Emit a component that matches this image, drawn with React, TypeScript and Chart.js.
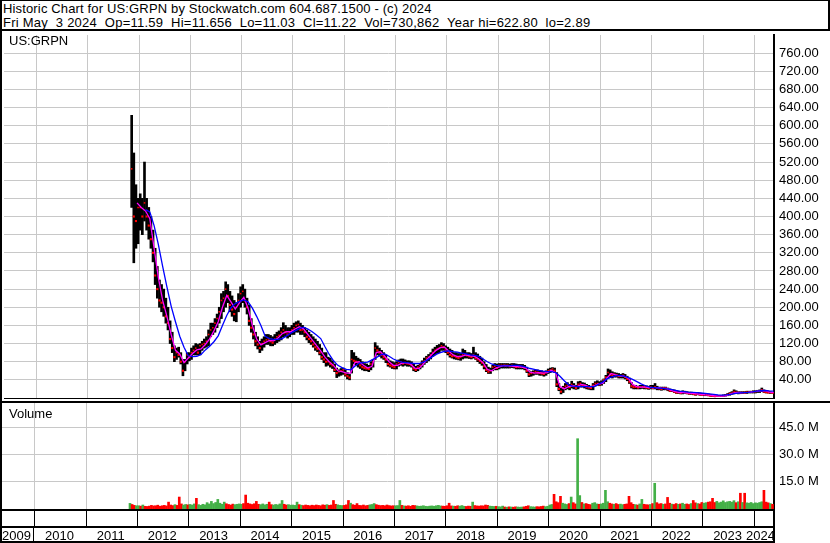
import React, { useEffect, useRef } from 'react';
import { Chart, registerables } from 'chart.js';

Chart.register(...registerables);

const FONT = '"Liberation Sans", Arial, sans-serif';

const HEADER_1 = 'Historic Chart for US:GRPN by Stockwatch.com 604.687.1500 - (c) 2024';
const HEADER_2 = 'Fri May  3 2024  Op=11.59  Hi=11.656  Lo=11.03  Cl=11.22  Vol=730,862  Year hi=622.80  lo=2.89';
const SYMBOL = 'US:GRPN';
const VOLUME_TITLE = 'Volume';

// x axis in fractional years
const X_MIN = 2009.3638;
const X_MAX = 2024.3833;
const years = [2009, 2010, 2011, 2012, 2013, 2014, 2015, 2016, 2017, 2018, 2019, 2020, 2021, 2022, 2023, 2024];

// half-month bars starting Nov 2011
const BAR_START = 2011 + 10 / 12;

const priceHigh = [
  623, 540, 470, 440,
  450, 440, 520, 440, 420, 400, 370, 330, 290, 260, 250, 240, 220, 200, 170, 145, 115, 110, 112, 100, 85, 85, 100, 100,
  110, 115, 120, 118, 120, 125, 130, 135, 150, 165, 165, 175, 185, 200, 230, 235, 256, 250, 235, 225, 215, 210, 230, 245,
  250, 240, 220, 205, 175, 160, 145, 135, 125, 130, 135, 140, 140, 138, 135, 140, 145, 148, 155, 166, 160, 155, 155, 160,
  165, 168, 170, 165, 160, 155, 150, 145, 140, 135, 130, 125, 118, 110, 100, 100, 90, 88, 82, 75, 66, 62, 65, 66,
  62, 56, 52, 105, 100, 92, 88, 85, 80, 76, 75, 72, 80, 85, 122, 115, 110, 105, 100, 95, 86, 82, 80, 78,
  80, 84, 86, 86, 84, 82, 82, 80, 76, 70, 72, 76, 82, 88, 92, 96, 100, 108, 112, 116, 118, 122, 120, 115,
  112, 108, 105, 100, 100, 98, 98, 108, 105, 100, 100, 98, 112, 100, 97, 92, 88, 80, 74, 68, 66, 72, 76, 75,
  76, 76, 76, 76, 76, 75, 76, 76, 75, 74, 74, 74, 72, 68, 60, 58, 60, 61, 62, 60, 60, 58, 60, 64,
  66, 67, 66, 56, 32, 22, 26, 32, 34, 30, 37, 32, 28, 36, 37, 34, 33, 30, 28, 26, 32, 36, 38, 36,
  38, 42, 50, 64, 62, 58, 56, 55, 54, 52, 54, 52, 48, 44, 34, 28, 28, 26, 28, 28, 28, 27, 26, 28,
  28, 32, 26, 24, 24, 24, 24, 22, 20, 19, 18, 16, 15, 14, 16, 15, 14, 13, 13, 12, 12, 12, 11, 10,
  10, 9, 9, 8, 7, 6, 5.5, 6, 6, 7, 8, 10, 12, 14, 18, 16, 14, 14, 14, 14, 15, 15, 15, 16,
  16, 17, 18, 22, 18, 16, 15, 14, 12,
];

const priceLow = [
  420, 298, 330, 340,
  370, 360, 390, 370, 350, 330, 300, 250, 220, 200, 190, 180, 165, 150, 120, 100, 80, 85, 90, 75, 49, 60, 75, 82,
  85, 95, 95, 95, 95, 105, 110, 112, 115, 135, 140, 145, 155, 165, 175, 190, 200, 210, 190, 180, 170, 168, 190, 200,
  210, 200, 185, 160, 145, 130, 115, 108, 100, 105, 112, 118, 118, 115, 115, 118, 122, 125, 128, 135, 135, 132, 135, 140,
  140, 145, 145, 140, 140, 135, 128, 122, 118, 112, 105, 102, 95, 85, 78, 70, 72, 68, 65, 58, 45, 48, 50, 52,
  48, 42, 40, 55, 75, 72, 68, 65, 62, 60, 60, 58, 62, 68, 85, 95, 92, 88, 85, 78, 70, 68, 65, 64,
  64, 70, 72, 70, 72, 70, 70, 68, 60, 58, 60, 64, 68, 74, 78, 82, 86, 92, 95, 98, 100, 105, 105, 100,
  95, 90, 88, 86, 85, 84, 83, 86, 88, 88, 87, 86, 88, 85, 80, 76, 72, 64, 58, 54, 54, 60, 62, 62,
  64, 66, 66, 66, 66, 66, 67, 66, 64, 64, 64, 64, 62, 56, 47, 48, 50, 52, 52, 50, 50, 48, 50, 54,
  56, 58, 56, 25, 16, 9, 12, 18, 20, 18, 22, 20, 19, 20, 24, 24, 22, 20, 19, 18, 18, 26, 28, 27,
  28, 32, 36, 44, 46, 44, 46, 46, 44, 44, 44, 42, 38, 32, 22, 20, 20, 20, 20, 21, 20, 20, 19, 20,
  20, 20, 18, 18, 17, 18, 18, 16, 14, 14, 12, 10, 10, 9, 9, 10, 9, 8, 8, 7, 6, 7, 6, 6,
  5, 5, 5, 4, 3.5, 3.2, 2.9, 3, 3, 3.5, 4, 5, 6, 8, 9, 10, 9, 10, 10, 10, 10, 11, 11, 11,
  11, 12, 12, 14, 12, 11, 11, 10, 11,
];

const priceClose = [
  505, 400, 390, 420,
  420, 400, 430, 400, 380, 350, 320, 270, 240, 215, 210, 200, 180, 165, 130, 110, 90, 100, 95, 80, 60, 80, 95, 90,
  100, 105, 110, 100, 115, 118, 120, 125, 140, 150, 155, 165, 175, 190, 215, 220, 240, 225, 205, 195, 185, 200, 215, 230,
  235, 215, 200, 170, 155, 140, 125, 118, 110, 120, 125, 128, 130, 125, 122, 130, 135, 138, 145, 150, 145, 140, 145, 150,
  155, 160, 162, 150, 150, 145, 135, 130, 125, 118, 112, 108, 100, 90, 85, 80, 80, 75, 72, 62, 55, 58, 60, 62,
  52, 48, 45, 85, 82, 80, 78, 72, 68, 66, 65, 64, 75, 80, 110, 105, 100, 95, 90, 85, 75, 72, 70, 68,
  75, 78, 80, 76, 78, 76, 75, 72, 65, 62, 68, 72, 78, 82, 88, 90, 95, 100, 105, 108, 110, 115, 112, 105,
  100, 95, 92, 92, 90, 88, 90, 95, 95, 94, 92, 90, 95, 88, 85, 82, 78, 70, 62, 58, 60, 68, 70, 66,
  72, 72, 72, 71, 72, 70, 72, 70, 68, 68, 68, 68, 66, 60, 52, 54, 56, 58, 56, 55, 54, 53, 56, 60,
  62, 64, 60, 30, 20, 14, 22, 26, 28, 24, 30, 26, 22, 30, 32, 28, 28, 24, 23, 22, 28, 32, 32, 30,
  34, 40, 46, 56, 52, 50, 52, 50, 48, 48, 50, 46, 42, 36, 26, 24, 24, 23, 24, 25, 24, 23, 22, 24,
  22, 25, 22, 21, 20, 22, 21, 19, 16, 16, 14, 12, 12, 11, 12, 12, 11, 10, 10, 9, 8, 9, 8, 7,
  7, 7, 6, 5, 4.5, 4, 4, 4, 4.5, 5, 6, 8, 10, 11, 14, 12, 12, 11, 12, 11.5, 13, 13, 13, 14,
  14, 15, 16, 18, 14, 13, 12, 12, 11.22,
];

// volume per half-month, millions
const volumeM = [
  3.1, 2.5, 2.0, 1.8,
  1.8, 1.6, 2.2, 1.5, 1.4, 1.6, 2.0, 1.7, 1.8, 2.1, 1.5, 1.8, 2.0, 1.7, 3.8, 2.2, 1.9, 2.4, 2.0, 6.6, 2.8, 2.2, 2.5, 2.3,
  2.5, 2.2, 2.8, 5.9, 2.4, 2.0, 2.6, 2.3, 3.5, 2.8, 4.2, 3.0, 3.6, 5.3, 3.2, 2.6, 3.8, 2.9, 2.5, 2.2, 2.7, 2.4, 2.6, 2.8,
  2.6, 3.0, 7.7, 3.2, 2.8, 2.5, 2.9, 4.2, 2.6, 2.4, 2.8, 2.3, 2.6, 3.8, 2.4, 2.2, 2.5, 2.3, 2.8, 4.7, 2.6, 2.2, 2.4, 2.1,
  2.2, 2.0, 3.8, 2.4, 2.1, 1.9, 2.2, 2.0, 1.8, 2.1, 1.9, 2.2, 2.0, 1.8, 2.3, 2.1, 2.4, 2.0, 2.2, 4.7, 2.6, 2.3, 2.0, 1.9,
  2.0, 2.3, 4.7, 3.2, 2.4, 2.1, 3.0, 2.0, 1.9, 2.2, 1.8, 2.0, 2.3, 2.5, 3.0, 2.4, 2.1, 1.9, 2.0, 1.8, 2.2, 1.9, 1.7, 1.8,
  1.8, 1.9, 4.7, 2.0, 1.7, 1.6, 1.8, 1.5, 2.0, 1.9, 1.7, 1.5, 1.6, 1.8, 1.5, 1.4, 1.6, 1.7, 1.5, 1.8, 2.0, 1.7, 1.6, 1.5,
  1.8, 3.2, 1.7, 1.6, 1.5, 1.8, 1.6, 1.9, 1.5, 1.4, 1.6, 1.5, 3.8, 1.9, 1.7, 1.6, 1.8, 1.7, 2.2, 2.0, 1.6, 1.5, 1.4, 1.5,
  1.3, 1.2, 1.6, 1.1, 1.0, 1.2, 1.1, 1.0, 1.2, 1.1, 1.0, 1.1, 1.2, 1.5, 1.8, 1.3, 1.2, 1.1, 1.3, 1.2, 1.4, 1.6, 1.3, 1.5,
  2.2, 2.5, 8.1, 4.0, 3.5, 7.0, 3.2, 2.8, 2.5, 3.0, 6.6, 3.5, 2.8, 38.8, 7.4, 3.6, 2.8, 3.0, 2.6, 2.4, 3.2, 3.5, 2.8, 2.6,
  2.8, 3.2, 10.3, 4.0, 3.2, 2.8, 2.6, 3.0, 2.5, 2.7, 2.4, 2.6, 2.8, 7.0, 3.5, 2.6, 2.4, 2.2, 2.8, 5.3, 2.6, 2.4, 2.3, 2.5,
  3.0, 14.2, 3.5, 2.8, 3.0, 2.6, 2.8, 6.4, 3.2, 2.7, 2.5, 3.0, 2.6, 2.8, 3.2, 2.6, 2.8, 2.5, 3.0, 4.7, 3.4, 3.0, 2.8, 3.6,
  3.2, 3.5, 3.8, 4.0, 5.9, 3.6, 4.2, 3.4, 3.8, 4.5, 3.6, 4.0, 4.2, 3.8, 4.6, 3.5, 4.0, 8.7, 3.6, 8.7, 3.4, 3.2, 3.6, 3.0,
  3.4, 3.2, 3.6, 4.0, 10.3, 3.8, 3.4, 3.0, 2.6,
];

// short moving average (magenta), monthly from Dec 2011
const FAST_START = 2011 + 11 / 12;
const maFast = [
  430,
  420, 412, 395, 330, 265, 215, 180, 140, 105, 97, 78, 88,
  98, 106, 108, 118, 130, 148, 168, 200, 226, 212, 196, 210,
  222, 198, 160, 130, 117, 122, 127, 126, 132, 142, 146, 146,
  152, 157, 152, 140, 128, 116, 104, 90, 80, 72, 60, 58,
  55, 55, 78, 80, 72, 66, 70, 100, 102, 92, 80, 72,
  72, 77, 78, 75, 66, 65, 75, 86, 96, 105, 111, 112,
  103, 95, 91, 92, 95, 93, 92, 86, 78, 63, 60, 66,
  69, 72, 71, 70, 69, 68, 66, 57, 55, 56, 55, 56,
  61, 55, 25, 20, 25, 27, 25, 30, 28, 24, 27, 31,
  32, 44, 54, 51, 49, 48, 44, 30, 25, 24, 24, 23,
  23, 23, 21, 21, 17, 14, 12, 12, 11, 10, 9, 8,
  7, 6.5, 5, 4.2, 4.3, 5.5, 9, 12, 12.5, 12, 12.5, 13.5,
  14.5, 16.5, 16, 13, 12,
];

// long moving average (blue), monthly from Feb 2012
const SLOW_START = 2012 + 1 / 12;
const maSlow = [
  415, 410, 380, 338, 290, 245, 202, 168, 136, 112, 93,
  91, 92, 96, 106, 114, 124, 137, 160, 182, 199, 208, 213,
  216, 212, 198, 180, 160, 136, 131, 129, 129, 131, 137, 143,
  148, 153, 156, 152, 146, 139, 131, 113, 96, 82, 72, 67,
  63, 62, 70, 77, 78, 79, 84, 89, 95, 97, 92, 86,
  82, 79, 78, 77, 76, 76, 79, 84, 90, 96, 100, 103,
  104, 102, 101, 99, 97, 95, 94, 92, 86, 80, 75, 72,
  71, 71, 71, 72, 72, 71, 68, 65, 63, 61, 59, 58,
  58, 56, 48, 38, 29, 26, 25, 25, 25, 25, 25, 30,
  35, 42, 46, 49, 50, 48, 45, 41, 36, 31, 27, 24,
  23, 22, 21, 20, 19, 17, 15, 14, 13, 12.5, 12, 11,
  10, 9, 8, 7, 6.5, 7, 8, 10, 11, 12, 12.5, 13.5,
  15, 16, 16.5, 15.5, 15,
];

const PRICE_MAX = 800;
const PRICE_STEP = 40;
const VOLUME_MAX_M = 58.5;
const volumeTicksM = [15, 30, 45];

const GRID = '#c8c8c8';
const RED = '#ff0000';
const GREEN = '#43b047';

const halfMonth = (i: number) => BAR_START + (i + 0.5) / 24;
const isDown = (i: number) => i > 0 && priceClose[i] < priceClose[i - 1];

const zeroPad = (s: any) => {
  s.paddingTop = 0;
  s.paddingBottom = 0;
  s.paddingLeft = 0;
  s.paddingRight = 0;
};

const xScaleOptions: any = {
  type: 'linear',
  min: X_MIN,
  max: X_MAX,
  offset: false,
  ticks: { display: false, stepSize: 1, includeBounds: false },
  grid: { color: GRID, lineWidth: 1, drawTicks: false, offset: false },
  border: { display: false },
  afterFit: (s: any) => {
    s.height = 0;
    zeroPad(s);
  },
};

const yearRowsPlugin = {
  id: 'yearRows',
  afterDraw(chart: any) {
    const { ctx, chartArea } = chart;
    const x = chart.scales.x;
    const top = chartArea.bottom;
    const right = chartArea.right + 1;
    ctx.save();
    ctx.fillStyle = '#000';
    ctx.fillRect(0, top, right, 2);
    ctx.fillRect(0, top + 17, right, 2);
    ctx.fillRect(0, top + 32, right, 2);
    ctx.fillRect(right - 2, top, 2, 34);
    years.forEach((yr) => {
      const px = x.getPixelForValue(yr);
      if (px > chartArea.left && px < chartArea.right) {
        ctx.fillRect(Math.round(px - 0.5), top + 2, 1, 15);
      }
    });
    const p2010 = Math.round(x.getPixelForValue(years[1]) - 0.5);
    ctx.fillRect(p2010 - 1, top + 19, 1, 13);
    ctx.font = `13px ${FONT}`;
    ctx.textBaseline = 'alphabetic';
    ctx.textAlign = 'left';
    years.forEach((yr) => {
      const label = String(yr);
      const w = ctx.measureText(label).width;
      const cx = x.getPixelForValue(yr + 0.5) - 1;
      let left = cx - w / 2;
      if (left < chartArea.left) left = chartArea.left;
      if (left + w > right) left = right - w;
      ctx.fillText(label, left, top + 31);
    });
    ctx.restore();
  },
};

export default function App() {
  const priceRef = useRef<HTMLCanvasElement | null>(null);
  const volRef = useRef<HTMLCanvasElement | null>(null);

  useEffect(() => {
    document.body.style.margin = '0';
    const priceBars = priceHigh.map((h, i) => ({ x: halfMonth(i), y: [priceLow[i], h] }));
    const closePts = priceClose.map((c, i) => ({ x: halfMonth(i), y: c }));
    const fastPts = maFast.map((v, i) => ({ x: FAST_START + (i + 0.5) / 12, y: v }));
    const slowPts = maSlow.map((v, i) => ({ x: SLOW_START + (i + 0.5) / 12, y: v }));
    const volBars = volumeM.map((v, i) => ({ x: halfMonth(i), y: v * 1e6 }));

    const priceChart = new Chart(priceRef.current as HTMLCanvasElement, {
      type: 'bar',
      data: {
        datasets: [
          {
            type: 'line',
            data: slowPts,
            borderColor: '#0000ff',
            borderWidth: 1.3,
            pointRadius: 0,
            order: 0,
          } as any,
          {
            type: 'line',
            data: fastPts,
            borderColor: '#ff00ff',
            borderWidth: 1.3,
            pointRadius: 0,
            order: 1,
          } as any,
          {
            type: 'line',
            data: closePts,
            showLine: false,
            pointStyle: 'rect',
            pointRadius: (c: any) => (isDown(c.dataIndex) ? 1.5 : 1.1),
            pointBackgroundColor: RED,
            pointBorderWidth: 0,
            order: 2,
          } as any,
          {
            type: 'bar',
            data: priceBars,
            backgroundColor: '#000',
            borderWidth: 0,
            barThickness: 2,
            grouped: false,
            order: 3,
          } as any,
        ],
      },
      options: {
        animation: false,
        responsive: false,
        maintainAspectRatio: false,
        events: [],
        layout: { padding: { left: 2, top: 0, right: 0, bottom: 2.5 } },
        plugins: { legend: { display: false }, tooltip: { enabled: false } },
        scales: {
          x: xScaleOptions,
          y: {
            position: 'right',
            min: 0,
            max: PRICE_MAX,
            ticks: {
              stepSize: PRICE_STEP,
              autoSkip: false,
              padding: 5,
              color: '#000',
              font: { family: FONT, size: 13 },
              callback: (v: any) => (v > 0 && v < PRICE_MAX ? Number(v).toFixed(2) : ''),
            },
            grid: {
              color: (c: any) =>
                c.tick && c.tick.value === 0 ? '#000' : c.tick && c.tick.value === PRICE_MAX ? 'rgba(0,0,0,0)' : GRID,
              drawTicks: false,
            },
            border: { display: true, color: '#000', width: 2 },
            afterFit: (s: any) => {
              s.width = 56;
              zeroPad(s);
            },
          } as any,
        },
      } as any,
    });

    const volChart = new Chart(volRef.current as HTMLCanvasElement, {
      type: 'bar',
      data: {
        datasets: [
          {
            data: volBars,
            backgroundColor: (c: any) => (isDown(c.dataIndex) ? RED : GREEN),
            borderWidth: 0,
            barThickness: 2,
            grouped: false,
          } as any,
        ],
      },
      options: {
        animation: false,
        responsive: false,
        maintainAspectRatio: false,
        events: [],
        layout: { padding: { left: 2, top: 0, right: 0, bottom: 34 } },
        plugins: { legend: { display: false }, tooltip: { enabled: false } },
        scales: {
          x: xScaleOptions,
          y: {
            position: 'right',
            min: 0,
            max: VOLUME_MAX_M * 1e6,
            afterBuildTicks: (s: any) => {
              s.ticks = volumeTicksM.map((v) => ({ value: v * 1e6 }));
            },
            ticks: {
              autoSkip: false,
              padding: 5,
              color: '#000',
              font: { family: FONT, size: 13 },
              callback: (v: any) => (Number(v) / 1e6).toFixed(1) + ' M',
            },
            grid: { color: GRID, drawTicks: false },
            border: { display: true, color: '#000', width: 2 },
            afterFit: (s: any) => {
              s.width = 56;
              zeroPad(s);
            },
          } as any,
        },
      } as any,
      plugins: [yearRowsPlugin],
    });

    return () => {
      priceChart.destroy();
      volChart.destroy();
    };
  }, []);

  const black = (l: number, t: number, w: number, h: number) => (
    <div style={{ position: 'absolute', left: l, top: t, width: w, height: h, background: '#000' }} />
  );

  const textStyle: React.CSSProperties = {
    position: 'absolute',
    fontFamily: FONT,
    fontSize: 13,
    lineHeight: '14px',
    color: '#000',
    whiteSpace: 'pre',
  };

  return (
    <div style={{ position: 'absolute', left: 0, top: 0, width: 830, height: 543, background: '#fff', overflow: 'hidden' }}>
      <div style={{ ...textStyle, left: 3, top: 2, letterSpacing: '0.15px' }}>{HEADER_1}</div>
      <div style={{ ...textStyle, left: 3, top: 16, letterSpacing: '0.25px' }}>{HEADER_2}</div>
      <canvas ref={priceRef} width={830} height={371} style={{ position: 'absolute', left: 0, top: 31 }} />
      <canvas ref={volRef} width={830} height={140} style={{ position: 'absolute', left: 0, top: 403 }} />
      {black(0, 0, 830, 1)}
      {black(828, 0, 2, 31)}
      {black(0, 29, 830, 2)}
      {black(0, 0, 2, 543)}
      {black(0, 401, 830, 2)}
      <div style={{ ...textStyle, left: 9, top: 34 }}>{SYMBOL}</div>
      <div style={{ ...textStyle, left: 9, top: 407 }}>{VOLUME_TITLE}</div>
    </div>
  );
}
